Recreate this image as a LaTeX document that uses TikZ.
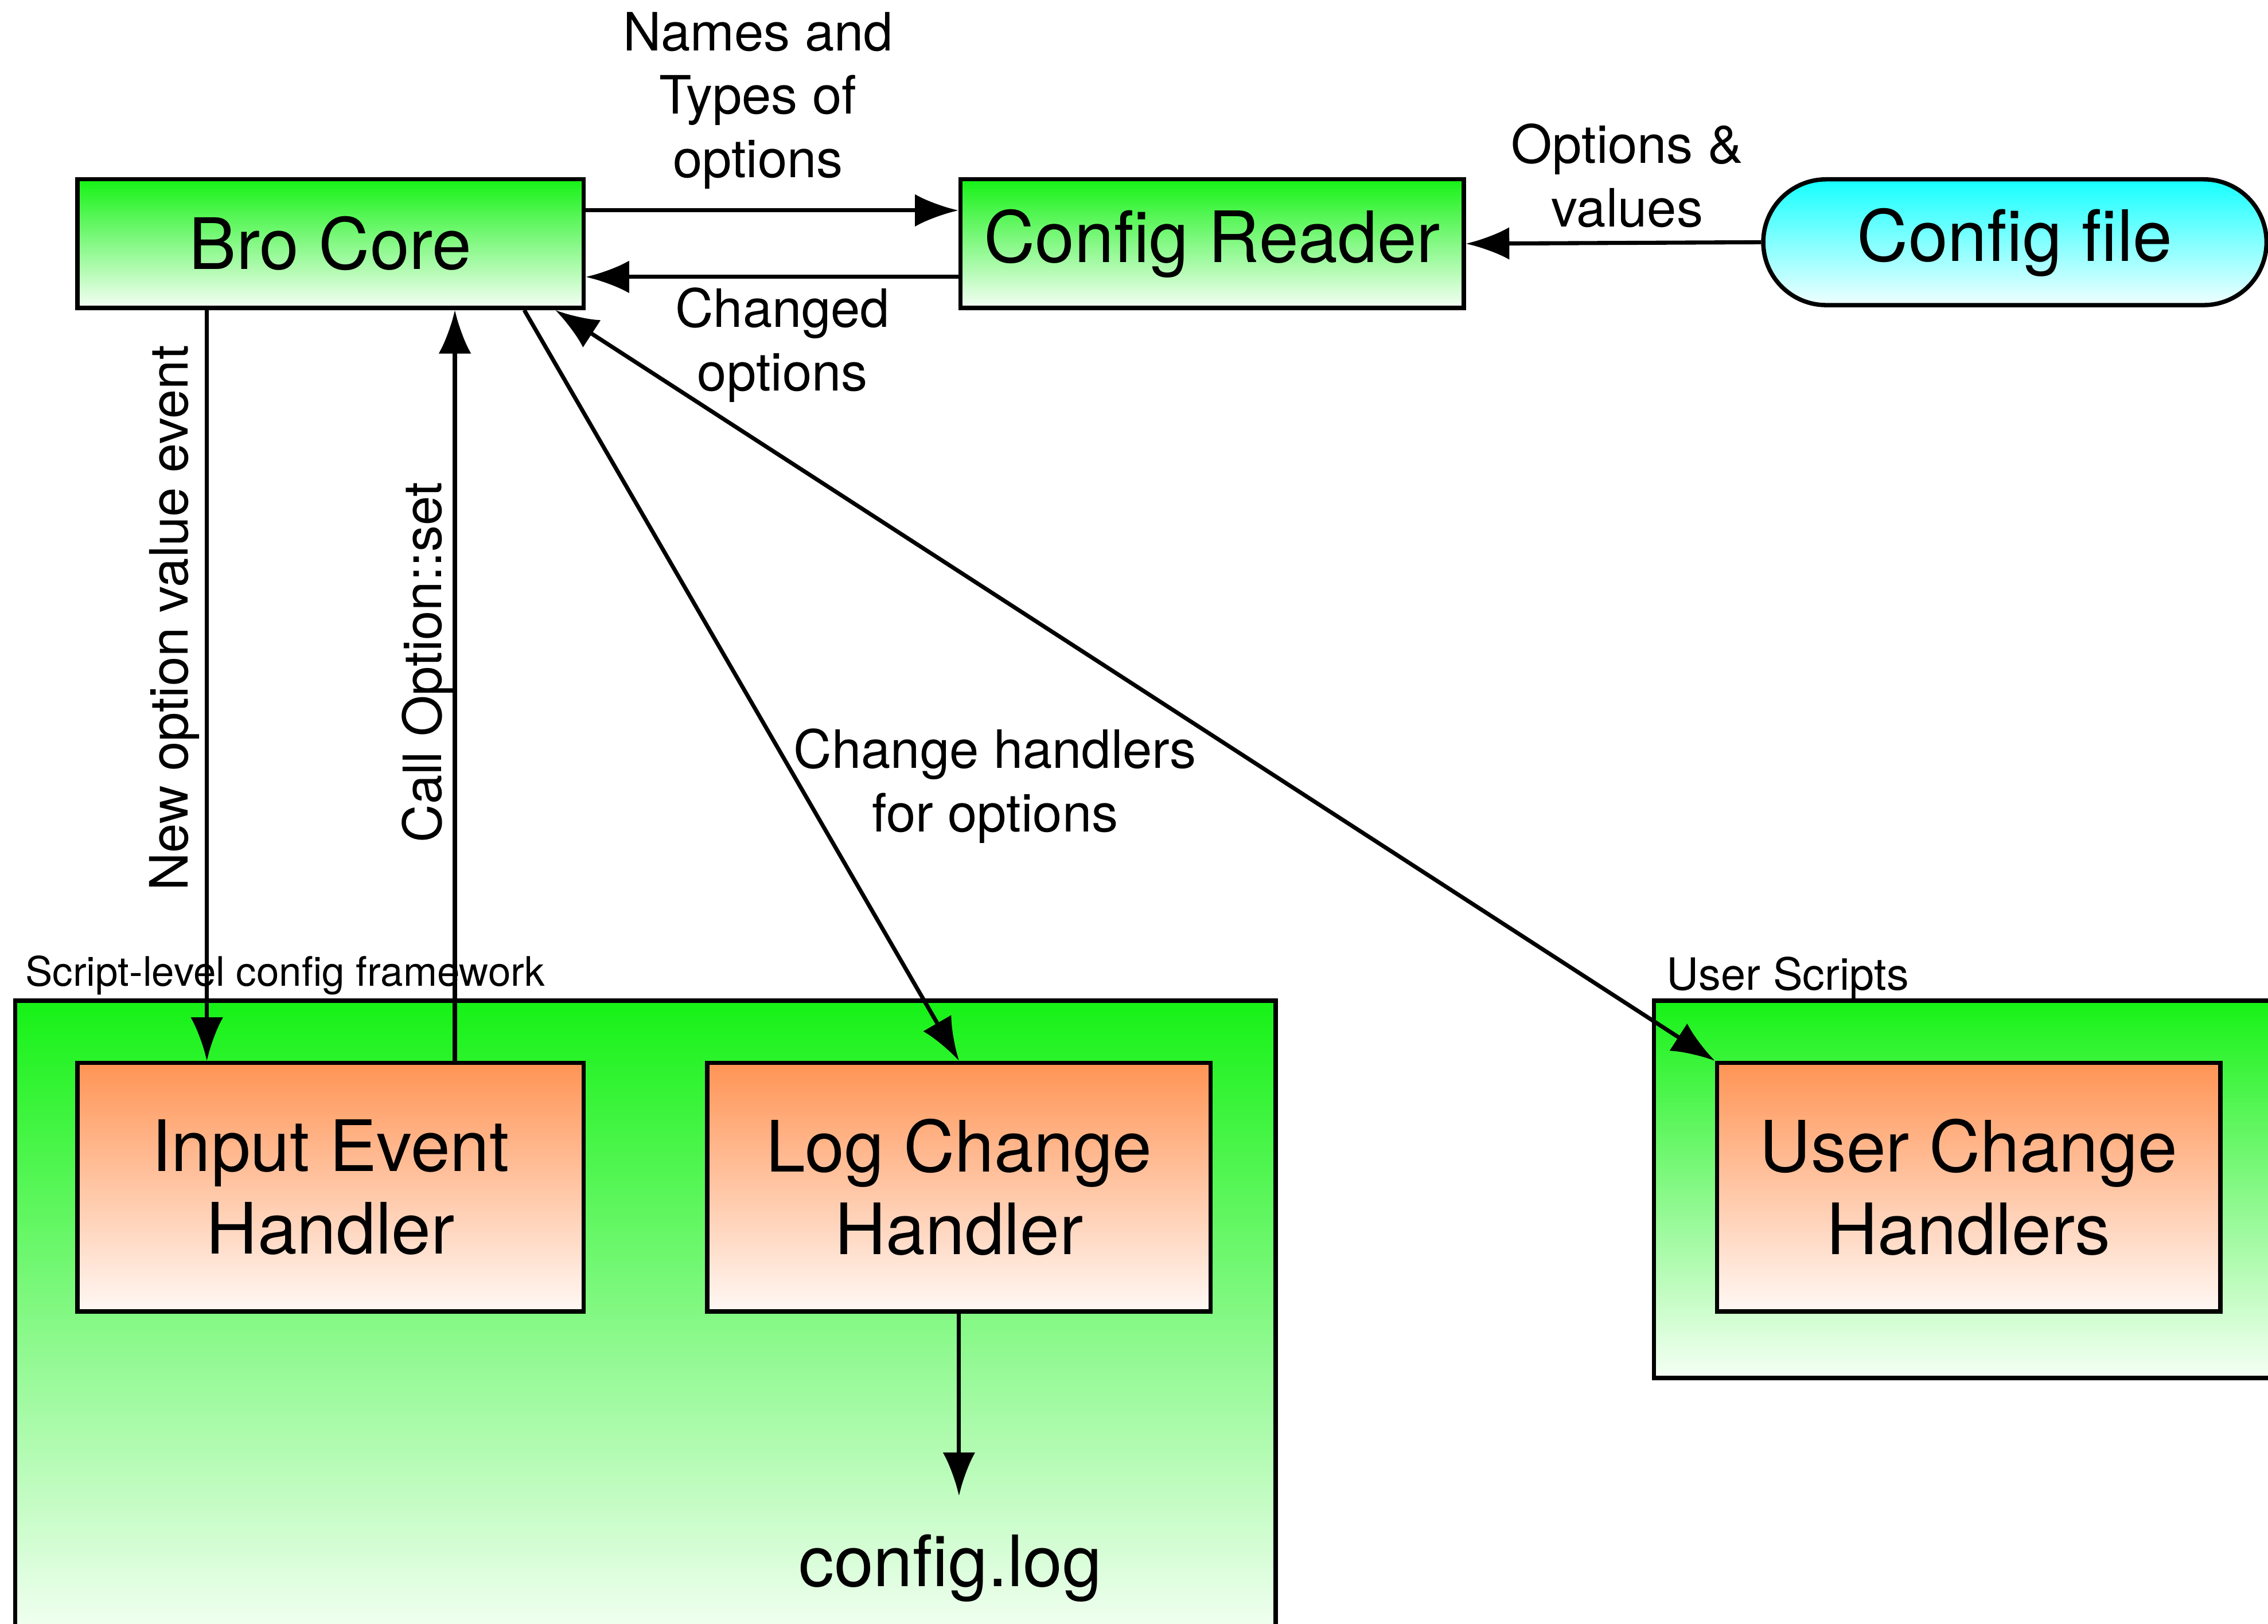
\documentclass[tikz,border=0pt]{standalone}
\usepackage{fontspec}
\setmainfont{TeX Gyre Heros}
\usepackage{tikz}
\usetikzlibrary{arrows.meta}
\definecolor{grtop}{RGB}{22,242,22}
\definecolor{grbot}{RGB}{245,255,245}
\definecolor{ortop}{RGB}{255,148,85}
\definecolor{orbot}{RGB}{255,248,245}
\definecolor{cytop}{RGB}{22,255,255}
\definecolor{cybot}{RGB}{240,255,255}
\tikzset{procbox/.style={draw, line width=1.7pt, minimum width=7cm, minimum height=1.78cm, align=center, font=\fontsize{27.9}{32.4}\selectfont, top color=grtop, bottom color=grbot},
  handlerbox/.style={procbox, minimum height=3.44cm, top color=ortop, bottom color=orbot},
  groupframe/.style={draw, line width=1.7pt, top color=grtop, bottom color=grbot},
  grouplabel/.style={anchor=base west, inner sep=0pt},
  flowlabel/.style={align=center, inner sep=0pt, font=\fontsize{20.8}{25}\selectfont},
  flow/.style={line width=1.6pt, >={Latex[length=0.6cm, width=0.45cm]}, ->}}

\begin{document}
\begin{tikzpicture}[x=0.02cm, y=-0.02cm]
    \useasboundingbox (0,0) rectangle (1568,1123);
    \clip (0,0) rectangle (1568,1123);
    % groups
    \path [groupframe] (10.5,692) rectangle (882,1135);
    \path [groupframe] (1143.5,692) rectangle (1600,953);
    \node [grouplabel, font=\fontsize{16}{19}\selectfont] (fwlabel) at (17.3,682) {Script-level config framework};
    \node [grouplabel, font=\fontsize{17.5}{21}\selectfont] (uslabel) at (1152,684.6) {User Scripts};
    % components
    \node [procbox] (brocore) at (228.5,168.5) {Bro Core};
    \node [procbox, minimum width=6.96cm] (confreader) at (838,168.5) {Config Reader};
    \node [procbox, minimum width=6.96cm, minimum height=1.74cm, rounded corners=0.87cm, top color=cytop, bottom color=cybot] (conffile) at (1393,167.5) {Config file};
    \node [handlerbox] (inputh) at (228.5,821) {Input Event\\Handler};
    \node [handlerbox, minimum width=6.96cm] (logch) at (663,821) {Log Change\\Handler};
    \node [handlerbox, minimum width=6.96cm] (userch) at (1361,821) {User Change\\Handlers};
    \node [inner sep=0pt, font=\fontsize{27.9}{32.4}\selectfont] (cfglog) at (657,1084.5) {config.log};
    % labels
    \node [flowlabel] (namestypes) at (524,69.5) {Names and\\Types of\\options};
    \node [flowlabel] (changedopts) at (541,238.6) {Changed\\options};
    \node [flowlabel] (optvalues) at (1125,121.4) {Options \&\\values};
    \node [flowlabel] (handlersfor) at (688,543.4) {Change handlers\\for options};
    \node [flowlabel, rotate=90] (newvalue) at (120.7,427.5) {New option value event};
    \node [flowlabel, rotate=90] (callset) at (295.6,458) {Call Option::set};
    % connectors
    \draw [flow] ([yshift=0.46cm]brocore.east) -- ([yshift=0.46cm]confreader.west);
    \draw [flow] ([yshift=-0.46cm]confreader.west) -- ([yshift=-0.46cm]brocore.east);
    \draw [flow] (conffile.west) -- (confreader.east);
    \draw [flow] ([xshift=-1.71cm]brocore.south) -- ([xshift=-1.71cm]inputh.north);
    \draw [flow] ([xshift=1.72cm]inputh.north) -- ([xshift=1.72cm]brocore.south);
    \draw [flow] ([xshift=2.68cm]brocore.south) -- (logch.north);
    \draw [flow, <->] ([xshift=-0.42cm]brocore.south east) -- (userch.north west);
    \draw [flow, shorten >=0.53cm] (logch.south) -- (logch.south |- cfglog.north);
\end{tikzpicture}
\end{document}
